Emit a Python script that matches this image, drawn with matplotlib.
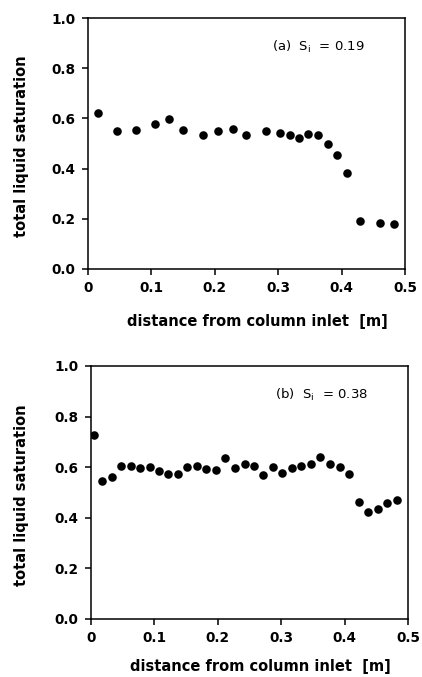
import numpy as np
import matplotlib
matplotlib.use('Agg')
import matplotlib.pyplot as plt

plt.rcParams['font.family'] = ['DejaVu Sans']
plt.rcParams['mathtext.fontset'] = 'dejavusans'

# (a) S_i = 0.19
xa = [0.016, 0.045, 0.076, 0.105, 0.128, 0.150, 0.181, 0.205, 0.229, 0.250, 0.280,
      0.303, 0.318, 0.333, 0.347, 0.363, 0.379, 0.393, 0.408, 0.429, 0.460, 0.483]
ya = [0.620, 0.550, 0.555, 0.578, 0.597, 0.553, 0.533, 0.548, 0.556, 0.532, 0.548,
      0.540, 0.532, 0.520, 0.538, 0.532, 0.497, 0.453, 0.383, 0.193, 0.185, 0.178]

# (b) S_i = 0.38
xb = [0.005, 0.018, 0.033, 0.047, 0.063, 0.078, 0.093, 0.108, 0.122, 0.137, 0.152,
      0.167, 0.182, 0.197, 0.212, 0.227, 0.243, 0.257, 0.272, 0.287, 0.302, 0.317,
      0.332, 0.347, 0.362, 0.377, 0.392, 0.407, 0.422, 0.437, 0.452, 0.467, 0.482]
yb = [0.727, 0.547, 0.562, 0.604, 0.604, 0.598, 0.602, 0.583, 0.574, 0.574, 0.600,
      0.603, 0.591, 0.590, 0.636, 0.598, 0.613, 0.604, 0.571, 0.600, 0.578, 0.598,
      0.606, 0.613, 0.639, 0.613, 0.599, 0.574, 0.463, 0.423, 0.435, 0.460, 0.471]

xticks = [0, 0.1, 0.2, 0.3, 0.4, 0.5]
xticklabels = ['0', '0.1', '0.2', '0.3', '0.4', '0.5']
yticks = [0.0, 0.2, 0.4, 0.6, 0.8, 1.0]
yticklabels = ['0.0', '0.2', '0.4', '0.6', '0.8', '1.0']

fig = plt.figure(figsize=(4.22, 6.77), dpi=100)
ax1 = fig.add_axes([0.2085, 0.6027, 0.7512, 0.3707])
ax2 = fig.add_axes([0.2156, 0.0857, 0.7512, 0.3737])

def style(ax, x, y, label, ylab_x, xlab_y):
    ax.scatter(x, y, s=38, c='black', zorder=3, linewidths=0)
    ax.set_xlim(0, 0.5)
    ax.set_ylim(0, 1.0)
    ax.set_xticks(xticks)
    ax.set_xticklabels(xticklabels, fontsize=9.8, fontweight='bold')
    ax.set_yticks(yticks)
    ax.set_yticklabels(yticklabels, fontsize=9.8, fontweight='bold')
    ax.tick_params(direction='out', length=4, width=1.1, pad=5)
    for s in ax.spines.values():
        s.set_linewidth(1.1)
    ax.set_ylabel('total liquid saturation', fontsize=10.5, fontweight='bold')
    ax.yaxis.set_label_coords(ylab_x, 0.49)
    ax.set_xlabel('distance from column inlet  [m]', fontsize=10.5, fontweight='bold')
    ax.xaxis.set_label_coords(0.535, xlab_y)
    ax.text(0.29, 0.87, label, fontsize=9.5, transform=ax.transData)

style(ax1, xa, ya, r'(a)  S$_{\mathregular{i}}$  = 0.19', -0.186, -0.18)
style(ax2, xb, yb, r'(b)  S$_{\mathregular{i}}$  = 0.38', -0.195, -0.16)

fig.savefig('out.png', dpi=100)
